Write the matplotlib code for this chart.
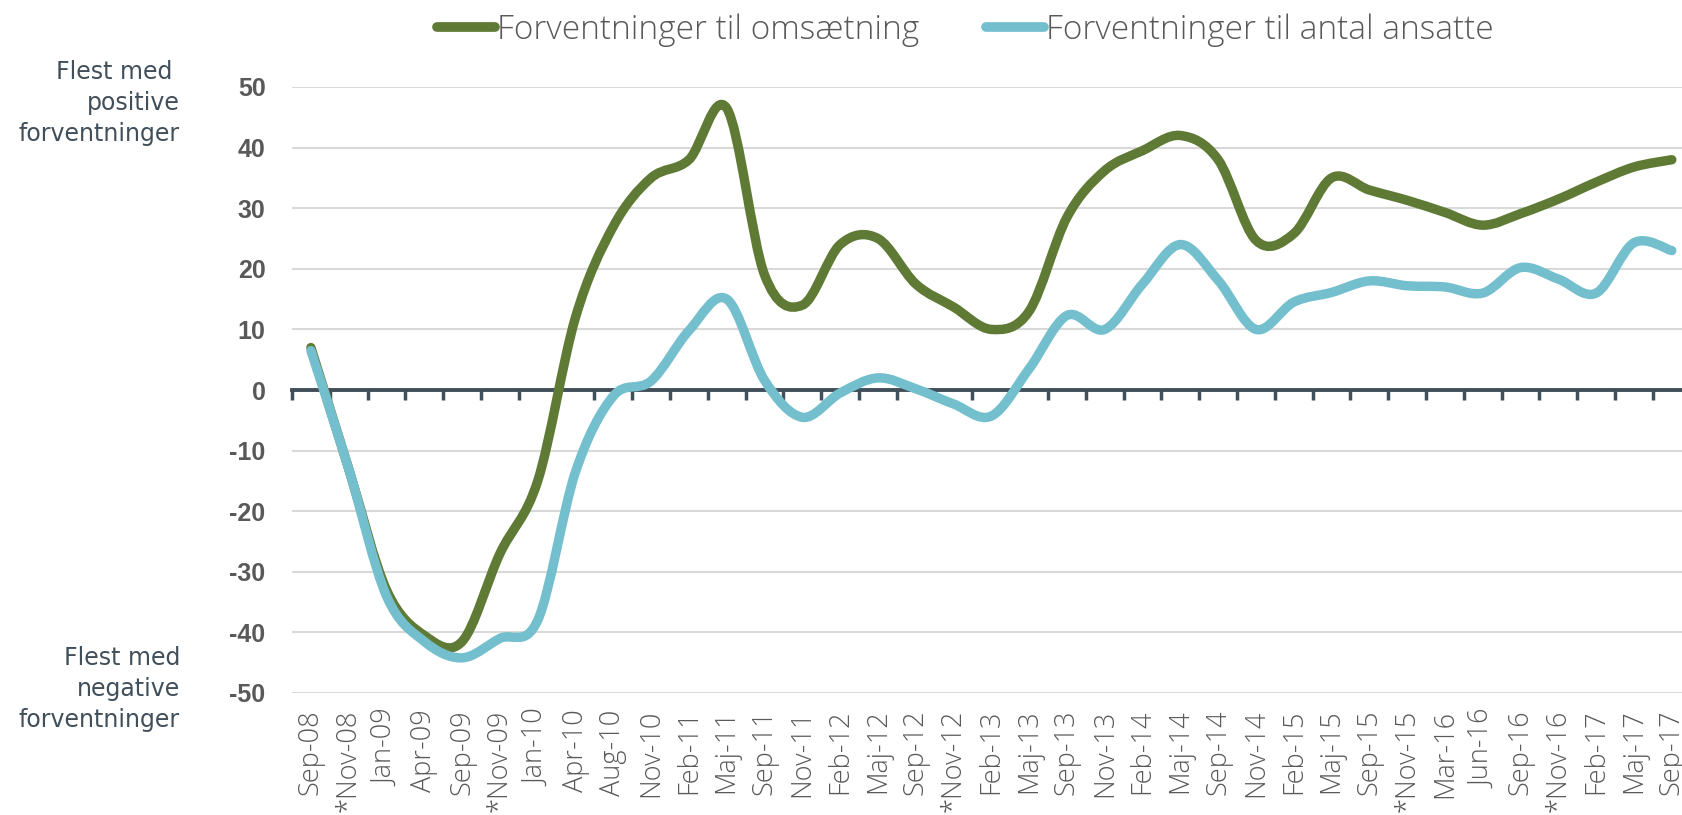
import numpy as np
import matplotlib
matplotlib.use("Agg")
import matplotlib.pyplot as plt
from matplotlib import font_manager
from matplotlib.path import Path
from matplotlib.patches import PathPatch
from matplotlib.lines import Line2D

# data
months = ['Sep-08', '*Nov-08', 'Jan-09', 'Apr-09', 'Sep-09', '*Nov-09', 'Jan-10', 'Apr-10',
          'Aug-10', 'Nov-10', 'Feb-11', 'Maj-11', 'Sep-11', 'Nov-11', 'Feb-12', 'Maj-12',
          'Sep-12', '*Nov-12', 'Feb-13', 'Maj-13', 'Sep-13', 'Nov-13', 'Feb-14', 'Maj-14',
          'Sep-14', 'Nov-14', 'Feb-15', 'Maj-15', 'Sep-15', '*Nov-15', 'Mar-16', 'Jun-16',
          'Sep-16', '*Nov-16', 'Feb-17', 'Maj-17', 'Sep-17']
omsaetning = [7, -13, -33, -40.5, -41.5, -27, -15, 12, 27, 35, 38, 46.5, 19, 14, 24, 25,
              17.5, 13.7, 10, 13, 28.5, 36.2, 39.5, 42, 38, 24.7, 25.8, 35, 33, 31.3, 29.3,
              27.2, 29.1, 31.5, 34.3, 36.8, 38]
ansatte = [6.5, -13, -34, -41.5, -44.2, -41, -38, -13.5, -1, 1.5, 9.8, 15, 1.6, -4.5, -0.5,
           2, 0.2, -2.3, -4.3, 3.5, 12.3, 10, 17.5, 24, 18.1, 10, 14.5, 16.1, 18, 17.2, 17,
           16, 20.2, 18.3, 16, 24.3, 23]
yticks = list(range(-50, 51, 10))

names = {f.name for f in font_manager.fontManager.ttflist}
light = 'Open Sans' if 'Open Sans' in names else 'DejaVu Sans'

GREEN = '#5f7a35'
BLUE = '#74bfcd'
SLATE = '#414f5a'
GREY = '#595959'


def smooth_path(values):
    # Excel-like smoothed line (Catmull-Rom as cubic Bezier)
    pts = np.column_stack([np.arange(len(values), dtype=float), np.asarray(values, float)])
    n = len(pts)
    verts = [pts[0]]
    codes = [Path.MOVETO]
    for i in range(n - 1):
        p0 = pts[max(i - 1, 0)]
        p1 = pts[i]
        p2 = pts[i + 1]
        p3 = pts[min(i + 2, n - 1)]
        verts += [p1 + (p2 - p0) / 6, p2 - (p3 - p1) / 6, p2]
        codes += [Path.CURVE4] * 3
    return Path(verts, codes)


fig = plt.figure(figsize=(16.82, 8.15), dpi=100)
ax = fig.add_axes([292 / 1682, 1 - 693 / 815, 1 - 292 / 1682, 606 / 815])

ax.set_xlim(-0.5, 36.27)
ax.set_ylim(-50, 50)

for vals, col in [(omsaetning, GREEN), (ansatte, BLUE)]:
    ax.add_patch(PathPatch(smooth_path(vals), fill=False, edgecolor=col, lw=6.8,
                           capstyle='round', joinstyle='round', zorder=3))

ax.set_yticks(yticks)
ax.set_yticklabels([str(v) for v in yticks])
ax.grid(axis='y', color='#d9d9d9', lw=1.5)
ax.set_axisbelow(True)
for s in ax.spines.values():
    s.set_visible(False)
ax.tick_params(axis='y', length=0, pad=19, labelsize=18, labelcolor=GREY)
for lab in ax.get_yticklabels():
    lab.set_fontfamily(['Liberation Sans', 'DejaVu Sans'])
    lab.set_fontweight('bold')

ax.set_xticks(range(len(months)))
ax.set_xticklabels(months, rotation=90)
ax.tick_params(axis='x', length=0, pad=12, labelsize=19.5, labelcolor=GREY)
for lab in ax.get_xticklabels():
    lab.set_fontfamily([light, 'DejaVu Sans'])
    lab.set_fontweight('light')

# zero axis with tick marks between categories
sec = ax.secondary_xaxis(0.5)
sec.set_zorder(2)
sec.set_xticks(np.arange(-0.5, len(months), 1.0))
sec.tick_params(axis='x', direction='in', length=7, width=2.5, color=SLATE, labelbottom=False,
                labeltop=False)
sec.spines['top'].set_color(SLATE)
sec.spines['top'].set_linewidth(2.8)
sec.spines['bottom'].set_visible(False)

# side notes
note_font = dict(ha='right', va='center', fontsize=17, color=SLATE,
                 family=['DejaVu Sans'], weight='normal', linespacing=1.38)
fig.text(180 / 1682, 1 - 103 / 815, 'Flest med \npositive\nforventninger', **note_font)
fig.text(180 / 1682, 1 - 689 / 815, 'Flest med\nnegative\nforventninger', **note_font)

handles = [Line2D([], [], color=GREEN, lw=7, solid_capstyle='round'),
           Line2D([], [], color=BLUE, lw=7, solid_capstyle='round')]
leg = fig.legend(handles, ['Forventninger til omsætning', 'Forventninger til antal ansatte'],
                 loc='center', bbox_to_anchor=(965 / 1682, 1 - 30 / 815), ncol=2,
                 frameon=False, handlelength=1.75, handletextpad=0.05, columnspacing=2.0,
                 prop={'family': [light, 'DejaVu Sans'], 'size': 24, 'weight': 'light'})
for t in leg.get_texts():
    t.set_color(GREY)

fig.savefig('out.png', dpi=100)
